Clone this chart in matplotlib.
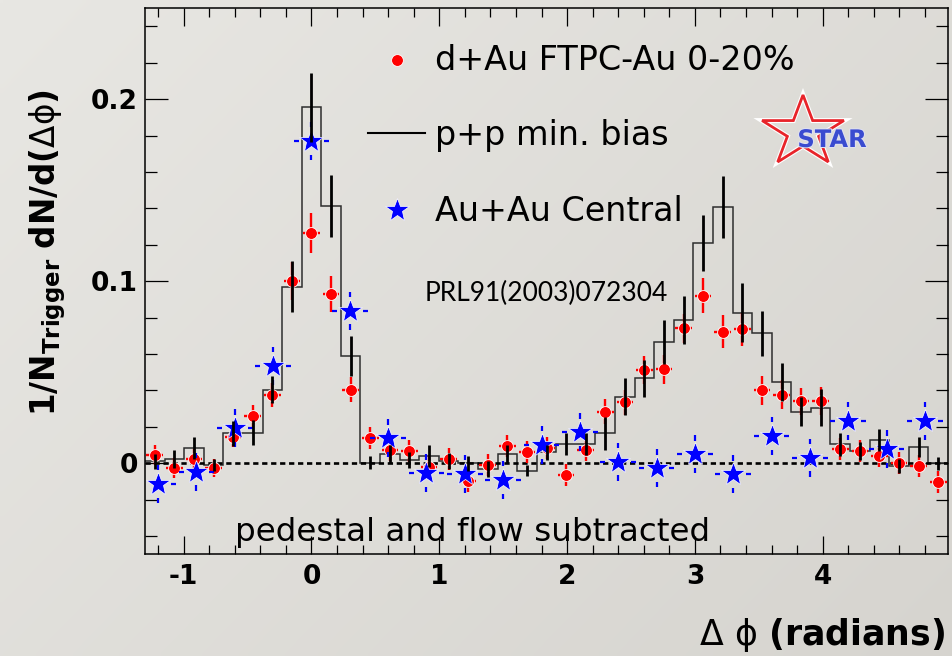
import numpy as np
import matplotlib
matplotlib.use("Agg")
import matplotlib.pyplot as plt
from matplotlib.ticker import MultipleLocator
from matplotlib.patches import Polygon
from matplotlib.lines import Line2D
from matplotlib.collections import LineCollection
import matplotlib.patheffects as pe

plt.rcParams["font.family"] = ["DejaVu Sans"]
plt.rcParams["mathtext.fontset"] = "dejavusans"

# ---------------- data ----------------
bin_width = 2 * np.pi / 41
bin_index = np.arange(-8, 33)

pp_values = [0.001, 0.0024, 0.0086, -0.001, 0.0165, 0.0168, 0.0405, 0.097, 0.1955, 0.1415, 0.059, 0.0003,
             0.005, 0.0018, 0.0042, 0.0013, 0.0, -0.003, 0.005, -0.004, 0.006, 0.0105, 0.0105, 0.0165,
             0.0366, 0.0467, 0.0668, 0.0787, 0.1209, 0.141, 0.0828, 0.0714, 0.0448, 0.0284, 0.0306,
             0.0104, 0.0067, 0.0128, -0.0015, 0.009, 0.0]
pp_errors = [0.004, 0.005, 0.006, 0.0035, 0.007, 0.007, 0.0075, 0.014, 0.019, 0.017, 0.011, 0.0037,
             0.005, 0.0045, 0.006, 0.0045, 0.004, 0.0045, 0.005, 0.003, 0.004, 0.006, 0.006, 0.009,
             0.010, 0.010, 0.012, 0.013, 0.0155, 0.017, 0.016, 0.0125, 0.0105, 0.008, 0.010,
             0.0065, 0.005, 0.006, 0.004, 0.0055, 0.0037]

dau_values = [0.0046, -0.0028, 0.0022, -0.0028, 0.0143, 0.026, 0.0375, 0.1003, 0.1267, 0.093, 0.0405, 0.0137,
              0.0075, 0.0068, -0.002, 0.0025, -0.0097, -0.001, 0.0097, 0.006, 0.0085, -0.0064, 0.0075, 0.0284,
              0.0335, 0.0513, 0.0516, 0.0742, 0.0921, 0.0723, 0.0736, 0.0401, 0.0377, 0.0341, 0.0342,
              0.0077, 0.0068, 0.0042, 0.0003, -0.0015, -0.0101]
dau_errors = [0.0055, 0.0055, 0.0055, 0.005, 0.0055, 0.006, 0.0065, 0.0105, 0.011, 0.010, 0.007, 0.006,
              0.006, 0.006, 0.006, 0.006, 0.006, 0.006, 0.006, 0.006, 0.006, 0.006, 0.006, 0.007,
              0.007, 0.0078, 0.008, 0.008, 0.0096, 0.009, 0.009, 0.008, 0.008, 0.0075, 0.0075,
              0.006, 0.006, 0.006, 0.006, 0.006, 0.006]

auau_phi = [-1.2, -0.9, -0.6, -0.3, 0.0, 0.3, 0.6, 0.9, 1.2, 1.5, 1.8, 2.1, 2.4, 2.7, 3.0, 3.3,
            3.6, 3.9, 4.2, 4.5, 4.8]
auau_values = [-0.0114, -0.0046, 0.0192, 0.0535, 0.177, 0.0839, 0.0137, -0.0055, -0.0059, -0.0092,
               0.010, 0.017, 0.0009, -0.0028, 0.005, -0.006, 0.015, 0.003, 0.0232, 0.0077, 0.0232]
auau_errors = [0.0104, 0.0104, 0.0104, 0.0104, 0.0105, 0.0104, 0.0104, 0.0104, 0.0104, 0.0104,
               0.0104, 0.0104, 0.0104, 0.0104, 0.0104, 0.0104, 0.0104, 0.0104, 0.0104, 0.0104, 0.0104]
auau_xerr = 0.14

x_ticks = [-1, 0, 1, 2, 3, 4]
x_ticklabels = ["-1", "0", "1", "2", "3", "4"]
y_ticks = [0.0, 0.1, 0.2]
y_ticklabels = ["0", "0.1", "0.2"]

# ---------------- figure ----------------
W, H = 952, 656
fig = plt.figure(figsize=(W / 100, H / 100), dpi=100)

def fx(px):
    return px / W

def fy(py):
    return 1 - py / H

# background gradient
bg = fig.add_axes([0, 0, 1, 1], zorder=-10)
yy, xx = np.mgrid[0:1:120j, 0:1:160j]
t = (xx * 0.6 + yy * 0.4)
c0 = np.array([232, 231, 227]) / 255
c1 = np.array([214, 212, 207]) / 255
bg.imshow(c0 + (c1 - c0) * t[..., None], extent=[0, 1, 0, 1], aspect="auto",
          origin="upper", interpolation="bilinear")
bg.axis("off")

ax_left, ax_right, ax_top, ax_bottom = 145, 948, 8.3, 554.3
ax = fig.add_axes([fx(ax_left), fy(ax_bottom), (ax_right - ax_left) / W, (ax_bottom - ax_top) / H])
ax.set_facecolor("none")

x = bin_index * bin_width
edges = (np.arange(bin_index[0], bin_index[-1] + 2) - 0.5) * bin_width

ax.stairs(pp_values, edges, baseline=None, color="#2e2e2e", lw=1.1, zorder=2)
ax.axhline(0, color="black", lw=1.9, ls=(0, (2.0, 1.4)), zorder=2.5)

ax.errorbar(x, dau_values, yerr=dau_errors, xerr=0.065, fmt="o", color="#ff0000", ms=8.5,
            mec="white", mew=0.6, elinewidth=1.7, capsize=0, zorder=4)

segs = []
for px_, py_, e in zip(auau_phi, auau_values, auau_errors):
    segs.append([(px_, py_ + 0.72 * e), (px_, py_ + e)])
    segs.append([(px_, py_ - e), (px_, py_ - 0.72 * e)])
    segs.append([(px_ + 0.72 * auau_xerr, py_), (px_ + auau_xerr, py_)])
    segs.append([(px_ - auau_xerr, py_), (px_ - 0.72 * auau_xerr, py_)])
ax.add_collection(LineCollection(segs, colors="#0000ff", linewidths=1.6, zorder=4.5))
ax.plot(auau_phi, auau_values, "*", color="#0000ff", ms=18, mec="white", mew=0.5, zorder=5)

ax.errorbar(x, pp_values, yerr=pp_errors, fmt="none", ecolor="black", elinewidth=2.0,
            capsize=0, zorder=6)

ax.set_xlim(edges[0], edges[-1])
ax.set_ylim(-0.05, 0.25)

ax.set_xticks(x_ticks, x_ticklabels, fontsize=19, fontweight="bold")
ax.set_yticks(y_ticks, y_ticklabels, fontsize=19, fontweight="bold")
ax.xaxis.set_minor_locator(MultipleLocator(0.2))
ax.yaxis.set_minor_locator(MultipleLocator(0.02))
ax.tick_params(which="both", direction="in", top=True, right=True, width=0.9, color="black")
ax.tick_params(axis="x", which="major", length=12.7, pad=7)
ax.tick_params(axis="x", which="minor", length=6.7)
ax.tick_params(axis="y", which="major", length=16.6, pad=5)
ax.tick_params(axis="y", which="minor", length=8.6)
for s in ax.spines.values():
    s.set_linewidth(1.1)

# legend (manual, as in ROOT)
fig.add_artist(Line2D([fx(397)], [fy(60)], marker="o", color="#ff0000", ms=8.5, mec="white",
                      mew=0.6, transform=fig.transFigure))
fig.add_artist(Line2D([fx(368), fx(425)], [fy(133), fy(133)], color="black", lw=1.5,
                      transform=fig.transFigure))
fig.add_artist(Line2D([fx(397)], [fy(210)], marker="*", color="#0000ff", ms=18, mec="white",
                      mew=0.5, transform=fig.transFigure))
fig.text(fx(435), fy(70), "d+Au FTPC-Au 0-20%", fontsize=24, ha="left", va="baseline")
fig.text(fx(435), fy(145), "p+p min. bias", fontsize=24, ha="left", va="baseline")
fig.text(fx(435), fy(221), "Au+Au Central", fontsize=24, ha="left", va="baseline")

fig.text(fx(546), fy(301.5), "PRL91(2003)072304", fontsize=19, family="Lato",
         ha="center", va="baseline")
fig.text(fx(235), fy(541.5), "pedestal and flow subtracted", fontsize=23.4,
         ha="left", va="baseline")

# axis titles
fig.text(fx(945), fy(645), r"$\mathrm{\Delta}\ \mathrm{\phi}\ \mathbf{(radians)}$",
         fontsize=25, ha="right", va="baseline")
fig.text(fx(55), fy(253), r"$\mathbf{1/N}_{\mathbf{Trigger}}\ \mathbf{dN/d(}\mathrm{\Delta\phi}\mathbf{)}$",
         fontsize=23.5, rotation=90, rotation_mode="anchor", ha="center", va="baseline")

# STAR logo
cx, cy, rx, ry = 803, 132, 43, 37
verts = []
for i in range(10):
    ang = np.deg2rad(90 + 36 * i)
    r = 1.0 if i % 2 == 0 else 0.382
    verts.append((fx(cx + r * rx * np.cos(ang)), fy(cy - r * ry * np.sin(ang))))
star = Polygon(verts, closed=True, fill=False, edgecolor="#e8242a", lw=2.0,
               transform=fig.transFigure,
               path_effects=[pe.Stroke(linewidth=3.6, foreground="white"), pe.Normal()])
fig.add_artist(star)
fig.text(fx(832), fy(147), "STAR", fontsize=17.4, fontweight="bold", color="#3a4bd0",
         ha="center", va="baseline",
         path_effects=[pe.withStroke(linewidth=1.5, foreground="#dfe0f0")])

fig.savefig("out.png", dpi=100)
